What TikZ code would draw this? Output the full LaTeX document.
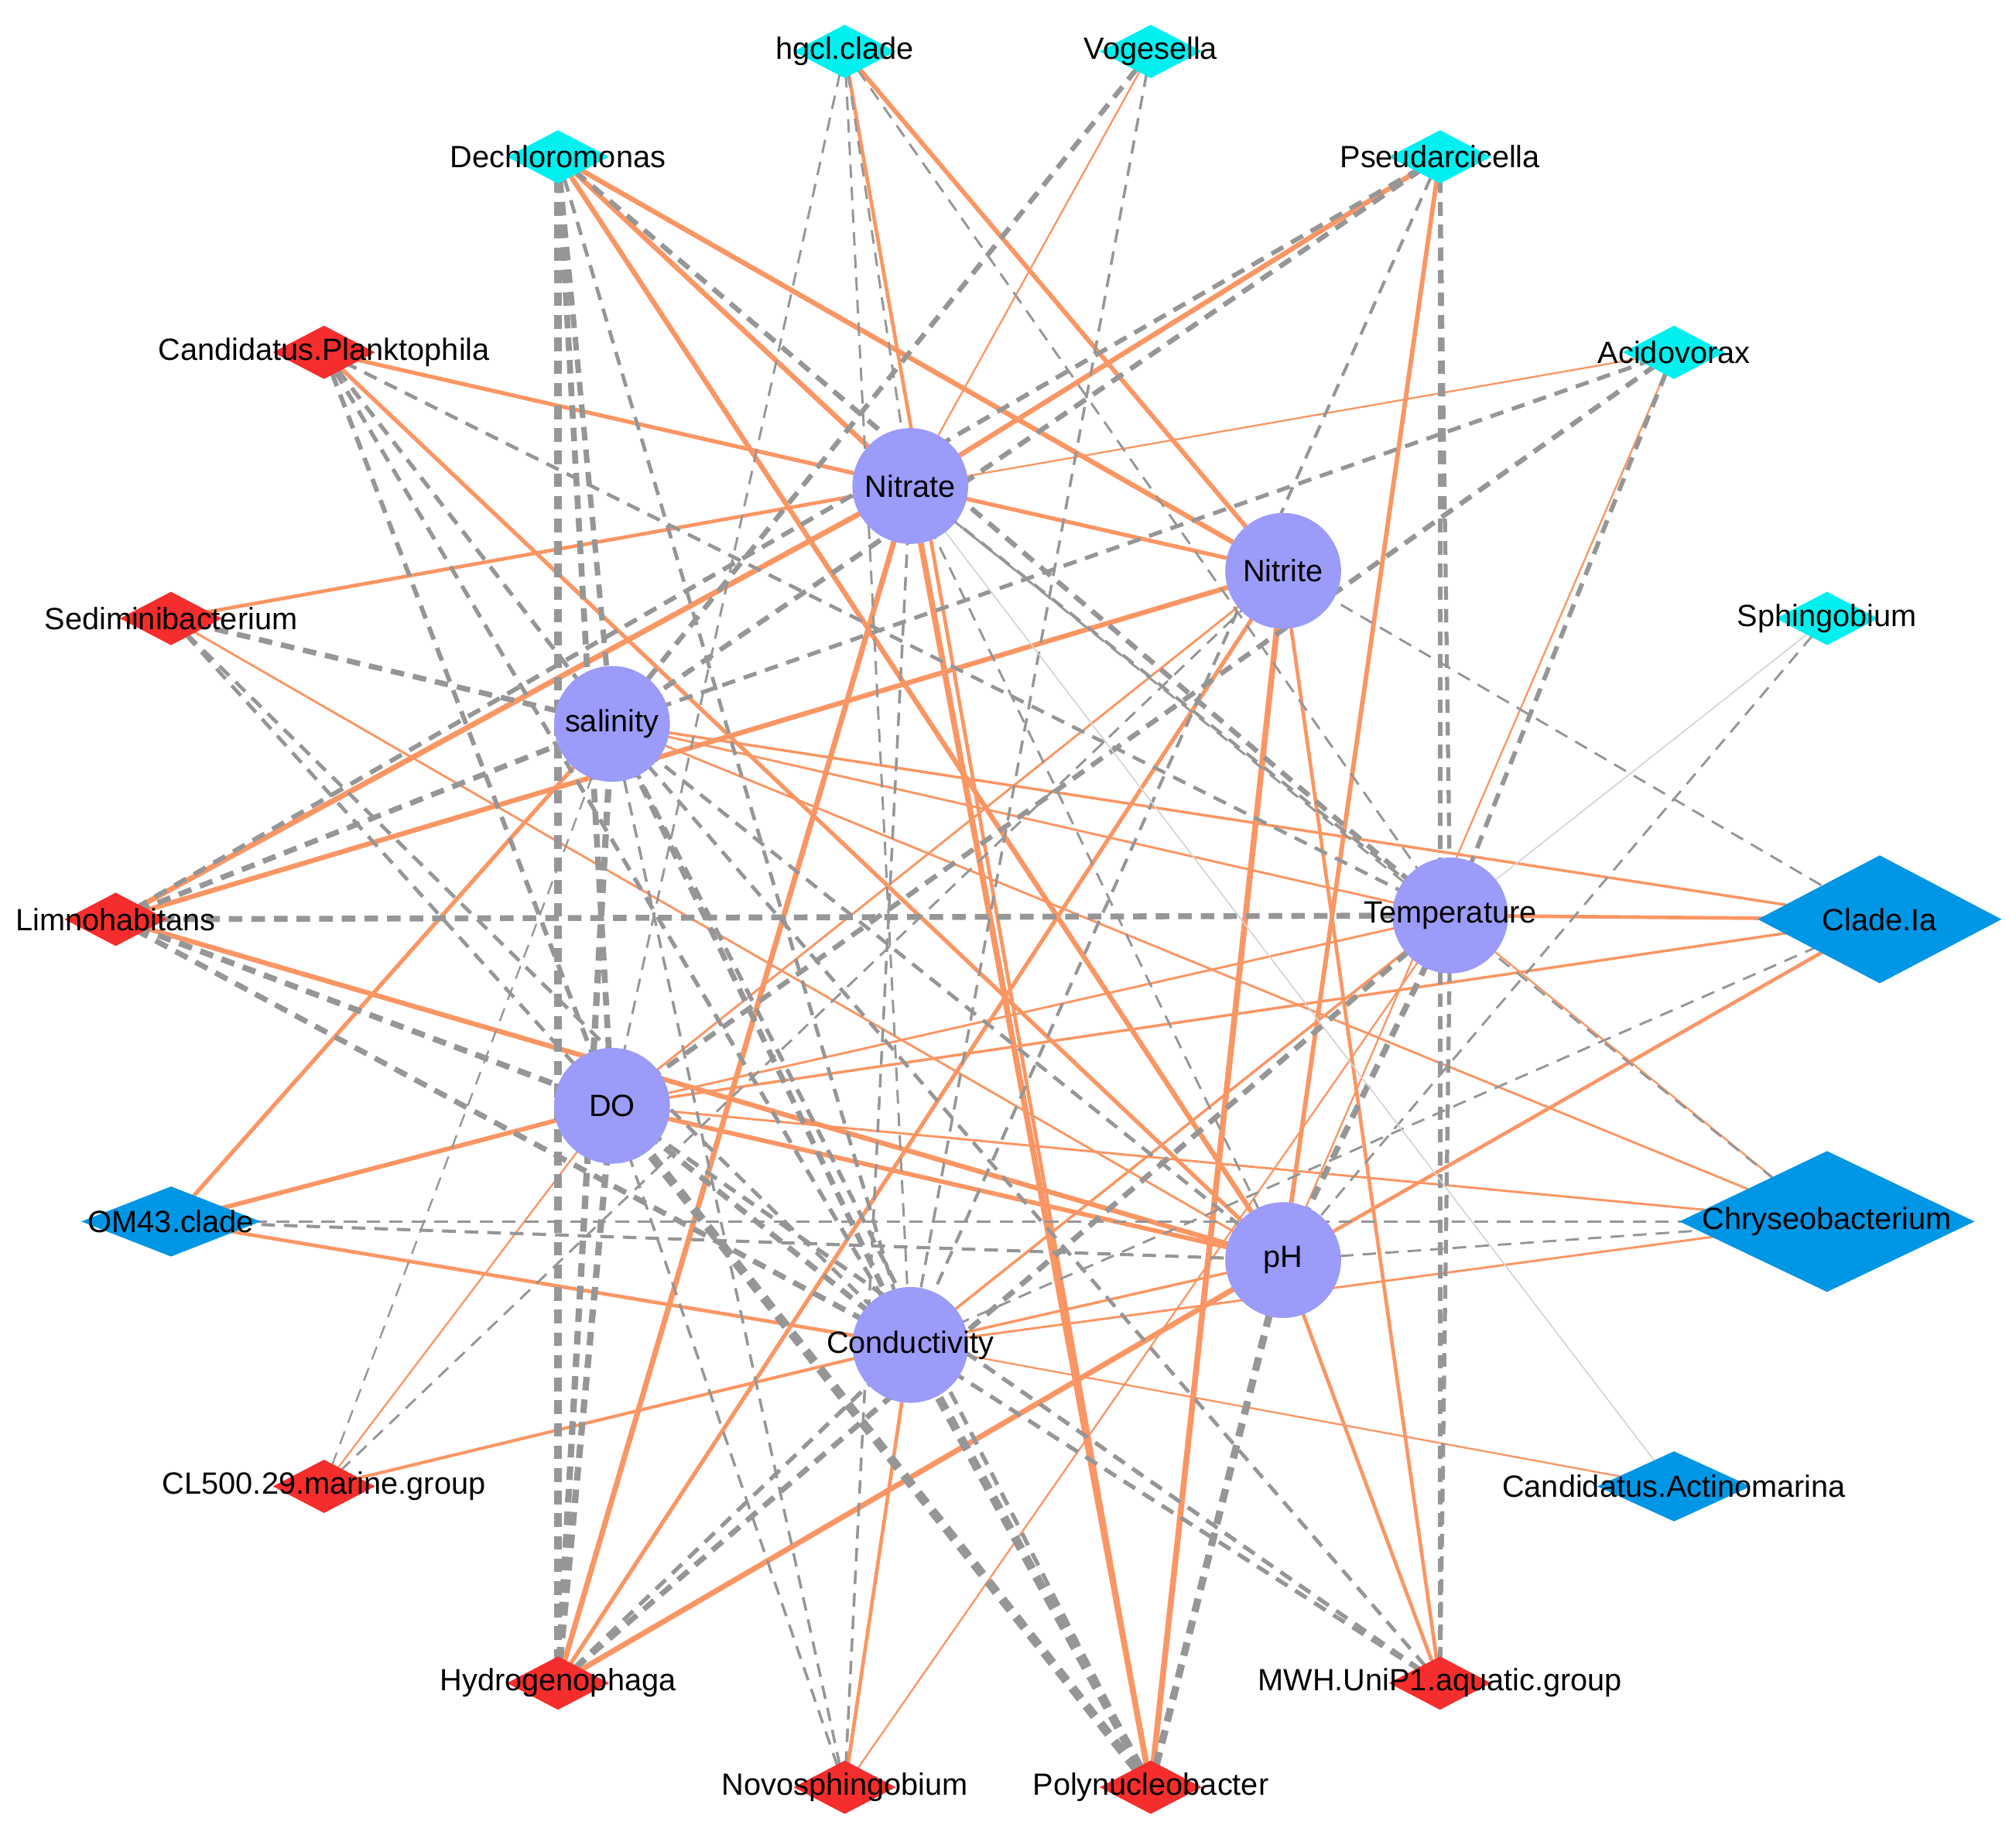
\documentclass[tikz,border=0pt]{standalone}
\usepackage{fontspec}
\setmainfont{Liberation Sans}
\usetikzlibrary{shapes.geometric,backgrounds}
\definecolor{envblue}{RGB}{155,155,250}
\definecolor{taxcyan}{RGB}{0,240,240}
\definecolor{taxblue}{RGB}{0,150,230}
\definecolor{taxred}{RGB}{245,45,45}
\definecolor{posline}{RGB}{250,150,100}
\definecolor{negline}{RGB}{150,150,150}
\tikzset{
  env/.style={circle,fill=envblue,minimum size=0.9cm,inner sep=0pt,
    label={[font=\fontsize{6.8}{7}\selectfont]center:#1}},
  taxon/.style={diamond,fill=#1,minimum width=0.8cm,minimum height=0.42cm,inner sep=0pt,
    label={[font=\fontsize{6.8}{7}\selectfont]center:\taxname}},
  pos/.style={draw=posline,line width=#1},
  neg/.style={draw=negline,dash pattern=on 3pt off 2pt,line width=#1},
}
\begin{document}
\begin{tikzpicture}[x=0.01cm,y=-0.01cm]
    \useasboundingbox (0,0) rectangle (1568,1427);

    % Environmental factors
    \node[env=Nitrate] (nitrate) at (708,378) {};
    \node[env=Nitrite] (nitrite) at (998,444) {};
    \node[env=salinity] (salinity) at (476,563) {};
    \node[env=Temperature] (temp) at (1128,712) {};
    \node[env=DO] (do) at (476,860) {};
    \node[env=pH] (ph) at (998,980) {};
    \node[env=Conductivity] (cond) at (708,1046) {};

    % Taxa
    \foreach \name/\x/\y/\col/\taxname in {
        hgcl/657/40/taxcyan/hgcl.clade,
        voges/895/40/taxcyan/Vogesella,
        dechl/434/122/taxcyan/Dechloromonas,
        pseud/1120/122/taxcyan/Pseudarcicella,
        acido/1302/274/taxcyan/Acidovorax,
        sphin/1421/481/taxcyan/Sphingobium,
        plank/252/274/taxred/Candidatus.Planktophila,
        sedim/133/481/taxred/Sediminibacterium,
        limno/90/715/taxred/Limnohabitans,
        clfive/252/1156/taxred/CL500.29.marine.group,
        hydro/434/1309/taxred/Hydrogenophaga,
        novos/657/1390/taxred/Novosphingobium,
        polyn/895/1390/taxred/Polynucleobacter,
        mwh/1120/1309/taxred/MWH.UniP1.aquatic.group}
      \node[taxon=\col] (\name) at (\x,\y) {};
    \def\taxname{OM43.clade}
    \node[taxon=taxblue,minimum width=1.4cm,minimum height=0.55cm] (omclade) at (133,950) {};
    \def\taxname{Candidatus.Actinomarina}
    \node[taxon=taxblue,minimum width=1.2cm,minimum height=0.55cm] (actin) at (1302,1156) {};
    \def\taxname{Chryseobacterium}
    \node[taxon=taxblue,minimum width=2.3cm,minimum height=1.1cm] (chrys) at (1421,950) {};
    \def\taxname{Clade.Ia}
    \node[taxon=taxblue,minimum width=1.9cm,minimum height=1cm] (cladeia) at (1462,715) {};

    % Edges
    \begin{scope}[on background layer]
    % positive correlations
    \foreach \a/\b/\w in {dechl/nitrate/1.1pt, dechl/nitrite/1.1pt, dechl/ph/1.1pt,
        hgcl/nitrite/1pt, hgcl/polyn/0.8pt, voges/nitrate/0.4pt,
        pseud/nitrate/1.1pt, pseud/ph/1pt, acido/nitrate/0.4pt, acido/ph/0.4pt,
        plank/nitrate/0.9pt, plank/ph/0.9pt, sedim/nitrate/0.8pt, sedim/ph/0.5pt,
        limno/nitrate/1.2pt, limno/ph/1.1pt, limno/nitrite/1.1pt,
        omclade/do/1pt, omclade/salinity/0.9pt, omclade/cond/0.8pt,
        clfive/do/0.4pt, clfive/cond/0.7pt,
        hydro/nitrate/1.2pt, hydro/nitrite/0.9pt, hydro/ph/1.2pt,
        novos/cond/0.8pt, novos/temp/0.4pt,
        polyn/nitrate/1.3pt, polyn/nitrite/1.3pt,
        mwh/ph/0.8pt, mwh/nitrite/0.8pt, actin/cond/0.4pt,
        chrys/do/0.5pt, chrys/salinity/0.5pt, chrys/cond/0.5pt, chrys/temp/0.4pt,
        cladeia/temp/0.8pt, cladeia/salinity/0.6pt, cladeia/ph/0.8pt, cladeia/do/0.6pt,
        nitrate/nitrite/0.9pt, salinity/temp/0.5pt, do/ph/1pt, do/temp/0.5pt,
        cond/temp/0.6pt, cond/ph/0.6pt, nitrite/do/0.5pt}
      \draw[pos=\w] (\a.center) -- (\b.center);
    % negative correlations
    \foreach \a/\b/\w in {dechl/salinity/1.2pt, dechl/do/1.3pt, dechl/hydro/1.8pt,
        dechl/temp/1.1pt, dechl/cond/0.8pt,
        hgcl/temp/0.5pt, hgcl/do/0.5pt, hgcl/cond/0.5pt, hgcl/nitrate/0.5pt,
        voges/salinity/1.1pt, voges/cond/0.6pt,
        pseud/salinity/1.1pt, pseud/temp/0.9pt, pseud/cond/0.7pt, pseud/mwh/1pt, pseud/limno/1pt,
        acido/do/1.1pt, acido/salinity/0.9pt, acido/temp/1pt,
        sphin/ph/0.5pt,
        plank/do/1pt, plank/cond/0.9pt, plank/temp/0.8pt, plank/salinity/0.9pt,
        sedim/salinity/1.2pt, sedim/do/0.8pt, sedim/cond/0.8pt,
        limno/salinity/1.2pt, limno/temp/1.3pt, limno/do/1.3pt, limno/cond/1.2pt,
        omclade/ph/0.7pt, clfive/salinity/0.4pt, clfive/nitrite/0.5pt,
        hydro/salinity/1.4pt, hydro/do/1.4pt, hydro/temp/1.2pt, hydro/cond/0.9pt,
        novos/nitrate/0.6pt, novos/salinity/0.6pt, novos/do/0.6pt,
        polyn/ph/1.6pt, polyn/do/2pt, polyn/salinity/0.9pt, polyn/cond/1.9pt,
        mwh/do/0.9pt, mwh/cond/0.9pt, mwh/salinity/0.8pt, mwh/temp/0.9pt,
        chrys/nitrate/0.5pt, chrys/ph/0.5pt, chrys/omclade/0.6pt,
        cladeia/cond/0.5pt, cladeia/nitrite/0.5pt,
        salinity/cond/1.2pt, nitrate/temp/0.7pt, ph/temp/1.3pt, do/cond/1.2pt,
        salinity/ph/0.8pt, nitrate/ph/0.5pt}
      \draw[neg=\w] (\a.center) -- (\b.center);
    \draw[negline!40,line width=0.3pt] (sphin.center) -- (temp.center);
    \draw[negline!40,line width=0.3pt] (actin.center) -- (nitrate.center);
    \end{scope}
\end{tikzpicture}
\end{document}
